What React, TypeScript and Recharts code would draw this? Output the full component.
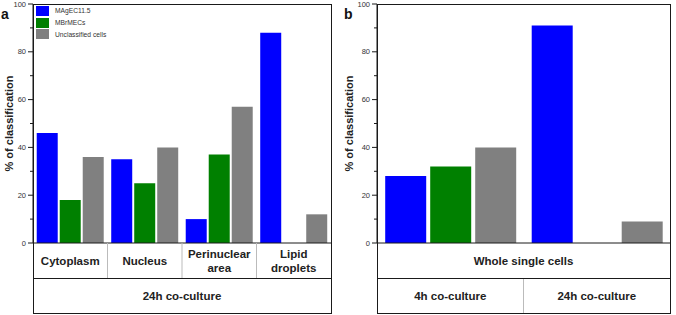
import { BarChart, Bar, XAxis, YAxis, Legend } from "recharts";

const categoriesA = ["Cytoplasm", "Nucleus", "Perinuclear\narea", "Lipid\ndroplets"];
const magecA = [46, 35, 10, 88];
const mbrmecA = [18, 25, 37, 0];
const unclassA = [36, 40, 57, 12];

const groupsB = ["4h co-culture", "24h co-culture"];
const magecB = [28, 91];
const mbrmecB = [32, 0];
const unclassB = [40, 9];

const yTicks = [0, 10, 20, 30, 40, 50, 60, 70, 80, 90, 100];
const seriesNames = ["MAgEC11.5", "MBrMECs", "Unclassified cells"];
const colors = ["#0000ff", "#008000", "#808080"];

const FONT = '"Liberation Sans", Arial, sans-serif';
const INK = "#1a1a1a";
const PLOT_TOP = 4;
const PLOT_BOTTOM = 243;
const ROW1 = 278;
const ROW2 = 313;
const H = 315;

const toRows = (names: string[], a: number[], b: number[], c: number[]) =>
  names.map((name, i) => ({ name, magec: a[i], mbrmec: b[i], unclass: c[i] }));

const dataA = toRows(categoriesA, magecA, mbrmecA, unclassA);
const dataB = toRows(groupsB, magecB, mbrmecB, unclassB);

const YTick = ({ axisX, payload, y }: any) => {
  const major = payload.value % 20 === 0;
  return (
    <g>
      <line x1={axisX - (major ? 5 : 3)} x2={axisX} y1={y} y2={y} stroke={INK} />
      {major && (
        <text x={axisX - 7} y={y} dy={2.6} textAnchor="end" fontSize={7.5} fill="#333" fontFamily={FONT}>
          {payload.value}
        </text>
      )}
    </g>
  );
};

const CatTick = ({ payload, band, top, bottom }: any) => {
  const lines = String(payload.value).split("\n");
  const cx = payload.coordinate;
  const mid = (top + bottom) / 2 + 4;
  const left = cx - band / 2;
  return (
    <g>
      {payload.index > 0 && <line x1={left} x2={left} y1={top} y2={bottom} stroke="#bbb" />}
      <text textAnchor="middle" fontSize={11.5} fontWeight="bold" fill="#222" fontFamily={FONT}>
        {lines.map((l, i) => (
          <tspan key={i} x={cx} y={mid + (i - (lines.length - 1) / 2) * 14}>
            {l}
          </tspan>
        ))}
      </text>
    </g>
  );
};

const LegendBox = ({ payload }: any) => (
  <div style={{ fontFamily: FONT }}>
    {(payload || []).map((p: any) => (
      <div key={p.value} style={{ display: "flex", alignItems: "center", height: 11.8 }}>
        <div style={{ width: 13, height: 10, background: p.color }} />
        <span style={{ marginLeft: 6, fontSize: 6.7, color: "#333" }}>{p.value}</span>
      </div>
    ))}
  </div>
);

type PanelProps = {
  letter: string;
  left: number;
  width: number;
  axisW: number;
  rightM: number;
  titleX: number;
  data: any[];
  catRow: 1 | 2;
  spanText: string;
  gap: string;
  barGap: number;
  legend?: boolean;
};

const Panel = ({ letter, left, width, axisW, rightM, titleX, data, catRow, spanText, gap, barGap, legend }: PanelProps) => {
  const plotW = width - axisW - rightM;
  const band = plotW / data.length;
  const tickTop = catRow === 1 ? PLOT_BOTTOM : ROW1;
  const tickBottom = catRow === 1 ? ROW1 : ROW2;
  const spanTop = catRow === 1 ? ROW1 : PLOT_BOTTOM;
  const spanBottom = catRow === 1 ? ROW2 : ROW1;
  return (
    <div style={{ position: "absolute", left, top: 0, width, height: H }}>
      <BarChart
        width={width}
        height={H}
        data={data}
        margin={{ top: PLOT_TOP, right: rightM, left: 0, bottom: 2 }}
        barCategoryGap={gap}
        barGap={barGap}
      >
        <XAxis
          dataKey="name"
          height={70}
          interval={0}
          tickLine={false}
          axisLine={{ stroke: INK }}
          tick={<CatTick band={band} top={tickTop} bottom={tickBottom} />}
        />
        <YAxis
          domain={[0, 100]}
          ticks={yTicks}
          interval={0}
          width={axisW}
          tickLine={false}
          axisLine={{ stroke: INK }}
          tick={<YTick axisX={axisW} />}
          label={({ viewBox }: any) => (
            <text
              x={titleX}
              y={PLOT_TOP + (PLOT_BOTTOM - PLOT_TOP) / 2}
              transform={`rotate(-90 ${titleX} ${PLOT_TOP + (PLOT_BOTTOM - PLOT_TOP) / 2})`}
              textAnchor="middle"
              dominantBaseline="central"
              fontSize={11}
              fontWeight="bold"
              fill="#222"
              fontFamily={FONT}
            >
              % of classification
            </text>
          )}
        />
        {legend && (
          <Legend
            layout="vertical"
            align="center"
            verticalAlign="middle"
            content={<LegendBox />}
            wrapperStyle={{ left: 36, top: 5, width: 120, height: 36 }}
          />
        )}
        <Bar dataKey="magec" name={seriesNames[0]} fill={colors[0]} isAnimationActive={false} />
        <Bar dataKey="mbrmec" name={seriesNames[1]} fill={colors[1]} isAnimationActive={false} />
        <Bar dataKey="unclass" name={seriesNames[2]} fill={colors[2]} isAnimationActive={false} />
      </BarChart>
      <div
        style={{
          position: "absolute",
          left: axisW,
          top: PLOT_TOP,
          width: plotW + 1,
          height: ROW2 - PLOT_TOP + 1,
          border: `1px solid ${INK}`,
          boxSizing: "border-box",
          pointerEvents: "none",
        }}
      />
      <div
        style={{
          position: "absolute",
          left: axisW,
          top: ROW1,
          width: plotW,
          height: 0,
          borderTop: `1px solid ${INK}`,
        }}
      />
      <div
        style={{
          position: "absolute",
          left: axisW,
          top: spanTop,
          width: plotW,
          height: spanBottom - spanTop,
          display: "flex",
          alignItems: "center",
          justifyContent: "center",
          fontFamily: FONT,
          fontWeight: "bold",
          fontSize: 11.5,
          color: "#222",
        }}
      >
        {spanText}
      </div>
      <div
        style={{
          position: "absolute",
          left: letter === "a" ? 1 : 8,
          top: 7,
          fontFamily: FONT,
          fontWeight: "bold",
          fontSize: 14,
          lineHeight: "14px",
          color: "#111",
        }}
      >
        {letter}
      </div>
    </div>
  );
};

export default function App() {
  return (
    <div style={{ position: "absolute", left: 0, top: 0, width: 676, height: 315, background: "#fff" }}>
      <Panel
        letter="a"
        left={0}
        width={340}
        axisW={33}
        rightM={9}
        titleX={9}
        data={dataA}
        catRow={1}
        spanText="24h co-culture"
        gap="5%"
        barGap={2}
        legend
      />
      <Panel
        letter="b"
        left={336}
        width={340}
        axisW={41}
        rightM={6}
        titleX={13}
        data={dataB}
        catRow={2}
        spanText="Whole single cells"
        gap="5.6%"
        barGap={4}
      />
    </div>
  );
}
